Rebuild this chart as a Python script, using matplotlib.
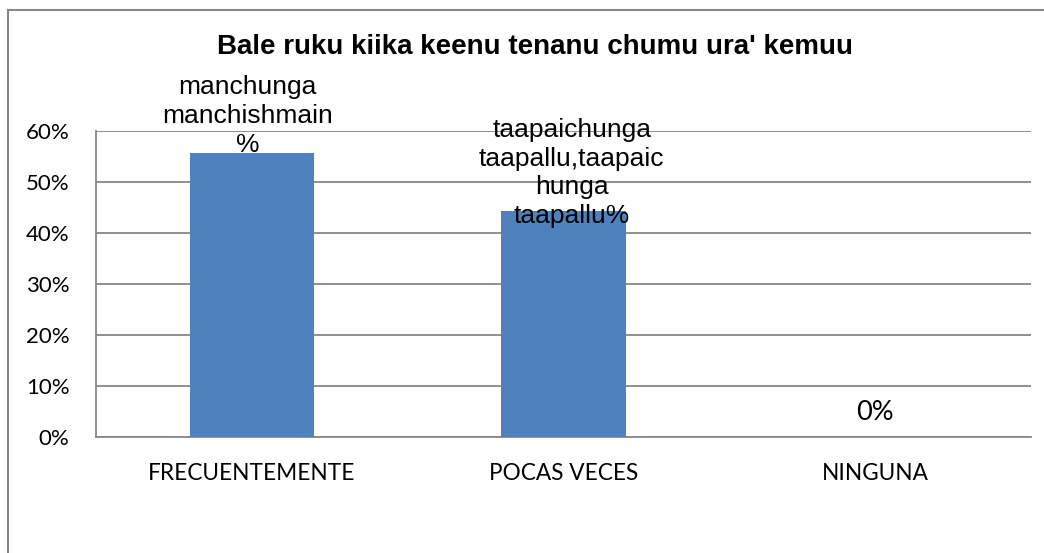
import matplotlib
matplotlib.use('Agg')
import matplotlib.pyplot as plt
from matplotlib.lines import Line2D
from matplotlib.ticker import PercentFormatter

categories = ['FRECUENTEMENTE', 'POCAS VECES', 'NINGUNA']
values = [0.556, 0.444, 0.0]
labels = ['manchunga\nmanchishmain\n%',
          'taapaichunga\ntaapallu,taapaic\nhunga\ntaapallu%',
          '0%']
yticks = [0, 0.1, 0.2, 0.3, 0.4, 0.5, 0.6]
title = "Bale ruku kiika keenu tenanu chumu ura' kemuu"

W, H = 1044, 553
grey = '#878787'

fig = plt.figure(figsize=(W / 100, H / 100), dpi=100)
ax = fig.add_axes([96 / W, 1 - 437 / H, (1031 - 96) / W, (437 - 131) / H])

x = range(len(categories))
ax.bar(x, values, width=0.4, color='#4F81BD', zorder=3)

ax.set_xlim(-0.5, len(categories) - 0.5)
ax.set_ylim(0, 0.6)
ax.set_yticks(yticks)
ax.yaxis.set_major_formatter(PercentFormatter(1.0, decimals=0))
ax.set_xticks(list(x))
ax.set_xticklabels(categories, fontfamily='Lato', fontsize=16.3)
for t in ax.get_yticklabels():
    t.set_fontfamily('Lato')
    t.set_fontsize(16)
ax.tick_params(axis='both', length=0)
ax.tick_params(axis='y', pad=19)
ax.tick_params(axis='x', pad=19)
ax.grid(axis='y', color=grey, lw=1.3, zorder=0)
for s in ['top', 'right']:
    ax.spines[s].set_visible(False)
for s in ['left', 'bottom']:
    ax.spines[s].set_color(grey)
    ax.spines[s].set_linewidth(1.3)

# data labels
offsets = [(-3, 27), (6, 27), (0, 18)]
for i, (v, lab, off) in enumerate(zip(values, labels, offsets)):
    if i == 2:
        fam, fs = 'Lato', 19.5
    else:
        fam, fs = 'Liberation Sans', 19
    ax.annotate(lab, xy=(i, v), xytext=off, textcoords='offset points',
                ha='center', va='center', fontfamily=fam, fontsize=fs,
                linespacing=1.25, zorder=4)

fig.text(535 / W, 1 - 47 / H, title, ha='center', va='center',
         fontfamily='Liberation Sans', fontweight='bold', fontsize=20)

# outer chart border (clipped at right and bottom)
fig.add_artist(Line2D([8 / W, 8 / W], [0, 1 - 10 / H], color=grey, lw=1.5,
                      transform=fig.transFigure))
fig.add_artist(Line2D([8 / W, 1], [1 - 10 / H, 1 - 10 / H], color=grey, lw=1.5,
                      transform=fig.transFigure))

fig.savefig('out.png', dpi=100)
